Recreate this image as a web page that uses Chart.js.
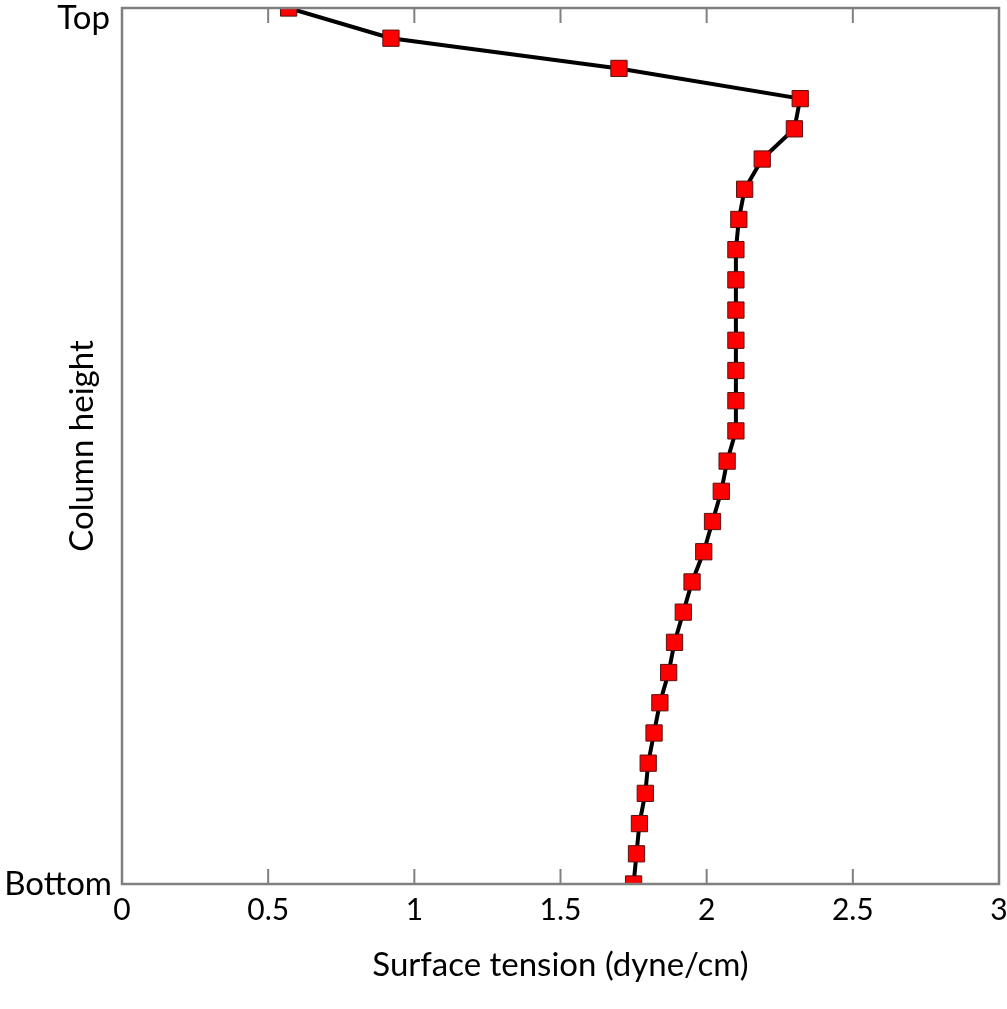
<!DOCTYPE html>
<html>
<head>
<meta charset="utf-8">
<title>Surface tension</title>
<script src="https://cdn.jsdelivr.net/npm/chart.js"></script>
<style>
  html, body { margin: 0; padding: 0; background: #fff; }
  #wrap { width: 1007px; height: 1009px; }
</style>
</head>
<body>
<div id="wrap"><canvas id="chart" width="1007" height="1009"></canvas></div>
<script>
// values read top to bottom along the column
var tension = [0.57, 0.92, 1.70, 2.32, 2.30, 2.19, 2.13, 2.11, 2.10, 2.10,
               2.10, 2.10, 2.10, 2.10, 2.10, 2.07, 2.05, 2.02, 1.99, 1.95,
               1.92, 1.89, 1.87, 1.84, 1.82, 1.80, 1.79, 1.77, 1.76, 1.75];
var heights = [];
for (var i = 0; i < tension.length; i++) heights.push(tension.length - 1 - i);

var xTicks = [0, 0.5, 1, 1.5, 2, 2.5, 3];
var yLabels = ['Bottom', 'Top'];
var FONT = 'Lato, "DejaVu Sans", sans-serif';

var points = tension.map(function (t, i) { return { x: t, y: heights[i] }; });

// box round the plot, inward ticks and the y labels
var framePlugin = {
  id: 'frame',
  afterDraw: function (chart) {
    var ctx = chart.ctx, a = chart.chartArea;
    var xs = chart.scales.x, ys = chart.scales.y;
    ctx.save();
    ctx.strokeStyle = '#808080';
    ctx.lineWidth = 2.5;
    ctx.strokeRect(a.left, a.top, a.right - a.left, a.bottom - a.top);
    ctx.lineWidth = 2;
    xTicks.forEach(function (v) {
      if (v === xTicks[0] || v === xTicks[xTicks.length - 1]) return;
      var px = xs.getPixelForValue(v);
      ctx.beginPath();
      ctx.moveTo(px, a.bottom); ctx.lineTo(px, a.bottom - 15);
      ctx.moveTo(px, a.top); ctx.lineTo(px, a.top + 15);
      ctx.stroke();
    });
    ctx.fillStyle = '#000';
    ctx.font = '33px ' + FONT;
    ctx.textAlign = 'right';
    ctx.textBaseline = 'middle';
    ctx.fillText(yLabels[0], a.left - 10, ys.getPixelForValue(ys.min));
    ctx.fillText(yLabels[1], a.left - 12, ys.getPixelForValue(ys.max) + 10);
    ctx.translate(a.left - 40, (a.top + a.bottom) / 2);
    ctx.rotate(-Math.PI / 2);
    ctx.textAlign = 'center';
    ctx.fillText('Column height', 0, 0);
    ctx.restore();
  }
};

var chart = new Chart(document.getElementById('chart').getContext('2d'), {
  type: 'scatter',
  data: {
    datasets: [{
      data: points,
      showLine: true,
      borderColor: '#000',
      borderWidth: 4,
      pointStyle: 'rect',
      pointRadius: 11.5,
      pointBackgroundColor: '#ff0000',
      pointBorderColor: '#5a1010',
      pointBorderWidth: 1,
      clip: 0
    }]
  },
  options: {
    responsive: false,
    animation: false,
    layout: { autoPadding: false, padding: { top: 8, right: 8, left: 0, bottom: 0 } },
    plugins: { legend: { display: false }, tooltip: { enabled: false } },
    scales: {
      x: {
        type: 'linear',
        min: 0,
        max: 3,
        afterBuildTicks: function (s) { s.ticks = xTicks.map(function (v) { return { value: v }; }); },
        afterFit: function (s) { s.height = 125; s.paddingLeft = 0; s.paddingRight = 0; },
        grid: { display: false, drawTicks: false },
        border: { display: false },
        ticks: {
          color: '#000', padding: 8, maxRotation: 0,
          font: { family: FONT, size: 30 },
          callback: function (v) { return String(v); }
        },
        title: {
          display: true,
          text: 'Surface tension (dyne/cm)',
          color: '#000',
          font: { family: FONT, size: 33 },
          padding: { top: 0, bottom: 24 }
        }
      },
      y: {
        type: 'linear',
        min: 0,
        max: 29,
        afterFit: function (s) { s.width = 122; s.paddingTop = 0; s.paddingBottom = 0; },
        grid: { display: false, drawTicks: false },
        border: { display: false },
        ticks: { display: false }
      }
    }
  },
  plugins: [framePlugin]
});
</script>
</body>
</html>
